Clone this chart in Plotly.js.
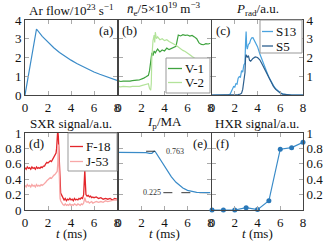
<!DOCTYPE html>
<html><head><meta charset="utf-8">
<script src="https://cdn.plot.ly/plotly-3.0.1.min.js"></script>
<style>html,body{margin:0;padding:0;background:#fff}#g{width:328px;height:243px}</style>
</head><body><div id="g"></div>
<script>
// (a) Ar flow
const aT = [0, 1, 1.5, 2, 2.5, 3, 3.5, 4, 4.5, 5, 5.5, 6, 6.5, 7, 7.5, 8];
const aV = [0, 3.52, 3.13, 2.8, 2.52, 2.27, 2.05, 1.86, 1.68, 1.52, 1.37, 1.23, 1.11, 0.99, 0.88, 0.78];
// (b) density
const bT1 = [0,0.2,0.4,0.6,0.8,1.0,1.2,1.4,1.6,1.8,2.0,2.2,2.4,2.6,2.7,2.8,2.9,3.0,3.1,3.2,3.4,3.6,3.8,4.0,4.2,4.4,4.6,4.8,5.0,5.1,5.2,5.4,5.6,5.8,6.0,6.2,6.4,6.6,6.8,7.0,7.2,7.4,7.6,7.8,8.0];
const bV1 = [0.75,0.72,0.74,0.73,0.76,0.74,0.77,0.76,0.79,0.8,0.84,0.9,0.97,1.05,1.3,2.0,2.25,2.1,2.35,2.25,2.45,2.3,2.4,2.35,2.5,2.42,2.48,2.55,2.6,2.9,3.2,3.15,3.22,3.18,3.2,3.14,3.18,3.1,3.0,2.78,2.7,2.68,2.74,2.72,2.76];
const bT2 = [0,0.2,0.4,0.6,0.8,1.0,1.2,1.4,1.6,1.8,2.0,2.2,2.4,2.6,2.7,2.8,2.85,2.9,3.0,3.1,3.15,3.2,3.3,3.4,3.6,3.8,4.0,4.2,4.4,4.6,4.8,5.0,5.2,5.4,5.6,5.8,6.0,6.2,6.4,6.6,6.8,7.0,7.2,7.4,7.6,7.8,8.0];
const bV2 = [0.45,0.43,0.46,0.44,0.45,0.43,0.46,0.45,0.47,0.46,0.5,0.52,0.55,0.6,0.35,0.25,0.6,2.0,2.9,3.2,2.8,3.35,3.0,3.1,2.95,3.0,2.9,2.95,2.85,2.8,2.72,2.65,2.55,2.45,2.38,2.32,2.25,2.15,2.05,1.95,1.85,1.8,1.78,1.75,1.72,1.74,1.72];
// (c) Prad
const cT13 = [0,1.4,1.6,1.8,1.9,2.0,2.1,2.2,2.3,2.4,2.5,2.6,2.7,2.8,2.9,2.95,3.0,3.05,3.1,3.2,3.3,3.4,3.5,3.6,3.8,4.0,4.2,4.4,4.6,4.8,5.0,5.2,5.4,5.6,5.8,6.0,6.2,6.5,7,8];
const cS13 = [0,0,0.05,0.3,0.45,0.42,0.6,0.58,0.9,0.98,0.95,1.3,1.22,1.6,1.7,2.8,3.38,2.6,2.45,2.7,2.75,2.95,3.05,3.06,2.85,2.58,2.2,1.85,1.55,1.25,0.95,0.7,0.5,0.33,0.2,0.12,0.06,0.02,0,0];
const cT5 = [0,2.1,2.3,2.5,2.6,2.7,2.8,2.9,2.95,3.0,3.1,3.2,3.3,3.4,3.6,3.8,4.0,4.2,4.4,4.6,4.8,5.0,5.2,5.4,5.6,5.8,6.0,6.2,6.5,7,8];
const cS5 = [0,0,0.02,0.05,0.1,0.3,0.7,1.2,2.0,2.15,2.0,2.1,1.85,1.8,1.95,2.03,2.0,1.88,1.65,1.4,1.12,0.87,0.64,0.46,0.3,0.19,0.11,0.05,0.02,0,0];
// (d) SXR
const dT1 = [0,0.1,0.2,0.3,0.4,0.5,0.6,0.7,0.8,0.9,1.0,1.1,1.2,1.3,1.4,1.5,1.6,1.7,1.8,1.9,2.0,2.1,2.2,2.3,2.4,2.5,2.6,2.7,2.75,2.8,2.85,2.9,2.95,3.0,3.05,3.1,3.2,3.3,3.4,3.5,3.6,3.7,3.8,3.9,4.0,4.1,4.2,4.3,4.4,4.5,4.6,4.7,4.8,4.9,5.0,5.1,5.15,5.2,5.25,5.3,5.4,5.5,5.6,5.7,5.8,5.9,6.0,6.2,6.4,6.6,6.8,7.0,7.2,7.4,7.6,7.8,8.0];
const dF18 = [0.55,0.53,0.56,0.54,0.55,0.53,0.56,0.54,0.55,0.53,0.56,0.54,0.55,0.54,0.56,0.55,0.57,0.57,0.6,0.62,0.61,0.63,0.64,0.63,0.66,0.67,0.7,0.74,0.8,0.92,1.05,0.95,0.8,0.5,0.3,0.22,0.19,0.15,0.13,0.15,0.12,0.14,0.13,0.15,0.13,0.14,0.12,0.15,0.13,0.14,0.13,0.15,0.14,0.16,0.15,0.2,0.4,0.52,0.35,0.2,0.18,0.19,0.17,0.18,0.16,0.17,0.16,0.17,0.15,0.16,0.14,0.15,0.14,0.15,0.13,0.15,0.14];
const dT2 = [0,0.1,0.2,0.3,0.4,0.5,0.6,0.7,0.8,0.9,1.0,1.1,1.2,1.3,1.4,1.5,1.6,1.7,1.8,1.9,2.0,2.1,2.2,2.3,2.4,2.5,2.6,2.7,2.8,2.85,2.9,2.95,3.0,3.05,3.1,3.2,3.3,3.4,3.5,3.6,3.7,3.8,3.9,4.0,4.1,4.2,4.3,4.4,4.5,4.6,4.7,4.8,4.9,5.0,5.1,5.2,5.3,5.4,5.5,5.6,5.7,5.8,5.9,6.0,6.2,6.4,6.6,6.8,7.0,7.2,7.4,7.6,7.8,8.0];
const dJ53 = [0.32,0.3,0.33,0.31,0.32,0.3,0.33,0.31,0.32,0.3,0.33,0.31,0.32,0.31,0.33,0.32,0.33,0.34,0.36,0.38,0.39,0.41,0.42,0.41,0.44,0.45,0.46,0.48,0.5,0.6,0.85,0.6,0.3,0.15,0.12,0.09,0.07,0.06,0.08,0.06,0.07,0.06,0.08,0.06,0.07,0.06,0.08,0.07,0.06,0.08,0.07,0.06,0.08,0.07,0.09,0.16,0.11,0.1,0.11,0.09,0.1,0.11,0.09,0.1,0.11,0.1,0.11,0.1,0.12,0.11,0.12,0.12,0.13,0.13];
// (e) Ip
const eT = [0,0.5,1.0,1.5,2.0,2.4,2.7,2.9,3.0,3.1,3.2,3.3,3.5,3.8,4.0,4.3,4.6,5.0,5.3,5.6,6.0,6.4,6.8,7.2,7.6,8.0];
const eV = [0.748,0.748,0.747,0.747,0.746,0.744,0.735,0.735,0.75,0.763,0.758,0.735,0.69,0.63,0.58,0.5,0.43,0.36,0.32,0.285,0.255,0.238,0.23,0.227,0.225,0.225];
const eRefs = [0.763, 0.225];
// (f) HXR
const fT = [0,1,2,3,4,5,6,7,8];
const fV = [0,0,0,0.03,0.005,0.12,0.79,0.81,0.88];
// legend labels
const legB = ['V-1','V-2'], legC = ['S13','S5'], legD = ['F-18','J-53'];

const W=328,H=243;
const px=v=>v/W, py=v=>(H-v)/H;
const colX=[[25,117],[118.5,210.5],[212,303]];
const rowY=[[20,95],[133,210]];
const FONT='Liberation Serif, Times New Roman, serif';
const fnt=()=>({family:FONT,size:13,color:'#111'});

function xa(i,row){
  const k=row*3+i+1;
  return {domain:[px(colX[i][0]),px(colX[i][1])],range:[0,8],tickvals:[0,2,4,6,8],
    ticks:'inside',ticklen:4,tickcolor:'#aaa',mirror:'ticks',showline:true,linecolor:'#444',linewidth:1,
    showgrid:false,zeroline:false,tickfont:fnt(),anchor:'y'+(k===1?'':k)};
}
function ya(i,row,opts){
  const k=row*3+i+1;
  return Object.assign({domain:[py(rowY[row][1]),py(rowY[row][0])],
    ticks:'inside',ticklen:4,tickcolor:'#aaa',mirror:'ticks',showline:true,linecolor:'#444',linewidth:1,
    showgrid:false,zeroline:false,tickfont:fnt(),anchor:'x'+(k===1?'':k)},opts);
}
const blue='#3a8bc8';
const colB=['#3fa33f','#b3e39a'], colC=['#4aa3df','#2c5f8e'], colD=['#e3262b','#f8a7a7'];
const traces=[
 {x:aT,y:aV,xaxis:'x',yaxis:'y',mode:'lines',line:{color:blue,width:1.2}},
 {x:bT1,y:bV1,xaxis:'x2',yaxis:'y2',mode:'lines',line:{color:colB[0],width:1.2},name:legB[0]},
 {x:bT2,y:bV2,xaxis:'x2',yaxis:'y2',mode:'lines',line:{color:colB[1],width:1.2},name:legB[1]},
 {x:cT13,y:cS13,xaxis:'x3',yaxis:'y3',mode:'lines',line:{color:colC[0],width:1.2},name:legC[0]},
 {x:cT5,y:cS5,xaxis:'x3',yaxis:'y3',mode:'lines',line:{color:colC[1],width:1.2},name:legC[1]},
 {x:dT1,y:dF18,xaxis:'x4',yaxis:'y4',mode:'lines',line:{color:colD[0],width:1.3},name:legD[0]},
 {x:dT2,y:dJ53,xaxis:'x4',yaxis:'y4',mode:'lines',line:{color:colD[1],width:1.3},name:legD[1]},
 {x:eT,y:eV,xaxis:'x5',yaxis:'y5',mode:'lines',line:{color:blue,width:1.2}},
 {x:fT,y:fV,xaxis:'x6',yaxis:'y6',mode:'lines+markers',line:{color:blue,width:1.2},marker:{color:'#2a78b8',size:5},cliponaxis:false}
];
function ann(text,xp,yp,xa,ya,size){return {text:text,x:xp,y:yp,xref:'paper',yref:'paper',xanchor:xa,yanchor:ya,showarrow:false,borderpad:0,font:{family:FONT,size:size||13,color:'#111'}};}
const annotations=[
 ann('Ar flow/10<sup>23</sup> s<sup>−1</sup>',px(71),py(19),'center','bottom'),
 ann('<i>n̄</i><sub>e</sub>/5×10<sup>19</sup> m<sup>−3</sup>',px(164),py(19),'center','bottom'),
 ann('<i>P</i><sub>rad</sub>/a.u.',px(257),py(19),'center','bottom'),
 ann('SXR signal/a.u.',px(71),py(132),'center','bottom'),
 ann('<i>I</i><sub>p</sub>/MA',px(164),py(132),'center','bottom'),
 ann('HXR signal/a.u.',px(257),py(132),'center','bottom'),
 ann('<i>t</i> (ms)',px(71),py(233),'center','middle'),
 ann('<i>t</i> (ms)',px(164),py(233),'center','middle'),
 ann('<i>t</i> (ms)',px(257),py(233),'center','middle'),
 ann('(a)',px(114),py(22),'right','top'),
 ann('(b)',px(121),py(22),'left','top'),
 ann('(c)',px(215),py(22),'left','top'),
 ann('(d)',px(28),py(135),'left','top'),
 ann('(e)',px(208),py(135),'right','top'),
 ann('(f)',px(215),py(135),'left','top'),
 {text:eRefs[0].toFixed(3),x:3.95,y:eRefs[0],xref:'x5',yref:'y5',xanchor:'left',yanchor:'middle',showarrow:false,font:{family:FONT,size:8,color:'#333'}},
 {text:eRefs[1].toFixed(3),x:3.85,y:eRefs[1],xref:'x5',yref:'y5',xanchor:'right',yanchor:'middle',showarrow:false,font:{family:FONT,size:8,color:'#333'}}
];
const shapes=[
 {type:'line',xref:'x5',yref:'y5',x0:2.4,x1:3.9,y0:eRefs[0],y1:eRefs[0],line:{color:'#222',width:0.9,dash:'dash'},layer:'above'},
 {type:'line',xref:'x5',yref:'y5',x0:3.9,x1:8,y0:eRefs[1],y1:eRefs[1],line:{color:'#222',width:0.9,dash:'dash'},layer:'below'}
];
// hand-built compact legends (box, line samples, labels)
function addLegend(box,lineX,textX,ys,labels,cols){
  shapes.push({type:'rect',xref:'paper',yref:'paper',x0:px(box[0]),x1:px(box[1]),y0:py(box[3]),y1:py(box[2]),
    line:{color:'#999',width:1},fillcolor:'#fff',layer:'above'});
  labels.forEach((lb,j)=>{
    shapes.push({type:'line',xref:'paper',yref:'paper',x0:px(lineX[0]),x1:px(lineX[1]),y0:py(ys[j]),y1:py(ys[j]),
      line:{color:cols[j],width:1.3},layer:'above'});
    annotations.push(ann(lb,px(textX),py(ys[j]),'left','middle'));
  });
}
addLegend([166,210,58,93],[168,182],184,[68.5,82.5],legB,colB);
addLegend([260,302,20,53],[262,273],275,[31.5,46],legC,colC);
addLegend([68,117,133,171],[70,83],85,[146.5,161.5],legD,colD);

const layout={width:W,height:H,margin:{l:0,r:0,t:0,b:0},paper_bgcolor:'#fff',plot_bgcolor:'#fff',
 font:{family:FONT},showlegend:false,
 xaxis:xa(0,0),xaxis2:xa(1,0),xaxis3:xa(2,0),
 xaxis4:xa(0,1),xaxis5:xa(1,1),xaxis6:xa(2,1),
 yaxis:ya(0,0,{range:[0,4],tickvals:[0,1,2,3,4]}),
 yaxis2:ya(1,0,{range:[0,4],tickvals:[0,1,2,3,4],showticklabels:false}),
 yaxis3:ya(2,0,{range:[0,4],tickvals:[0,1,2,3,4],ticktext:['','1','2','3','4'],side:'right'}),
 yaxis4:ya(0,1,{range:[0,1],tickvals:[0,0.2,0.4,0.6,0.8,1]}),
 yaxis5:ya(1,1,{range:[0,1],tickvals:[0,0.2,0.4,0.6,0.8,1],showticklabels:false}),
 yaxis6:ya(2,1,{range:[0,1],tickvals:[0,0.2,0.4,0.6,0.8,1],ticktext:['','0.2','0.4','0.6','0.8','1'],side:'right'}),
 annotations:annotations,shapes:shapes};
Plotly.newPlot('g',traces,layout,{displayModeBar:false,staticPlot:true});
</script></body></html>
